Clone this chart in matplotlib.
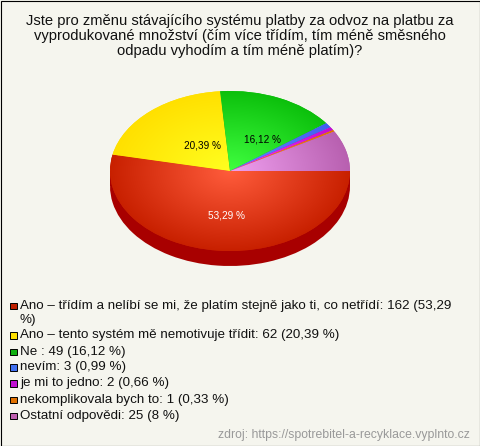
import numpy as np
import matplotlib
matplotlib.use("Agg")
import matplotlib.pyplot as plt
from matplotlib.patches import Rectangle

plt.rcParams['font.family'] = ['Liberation Sans', 'DejaVu Sans']

title = "Jste pro změnu stávajícího systému platby za odvoz na platbu za\nvyprodukované množství (čím více třídím, tím méně směsného\nodpadu vyhodím a tím méně platím)?"
names = ["Ano – třídím a nelíbí se mi, že platím stejně jako ti, co netřídí",
         "Ano – tento systém mě nemotivuje třídit",
         "Ne ",
         "nevím",
         "je mi to jedno",
         "nekomplikovala bych to",
         "Ostatní odpovědi"]
counts = [162, 62, 49, 3, 2, 1, 25]
percents = ["53,29", "20,39", "16,12", "0,99", "0,66", "0,33", "8"]
source = "zdroj: https://spotrebitel-a-recyklace.vyplnto.cz"

# gradient colours of the slices
centre_cols = ["#ff5c3c", "#ffff20", "#40ff40", "#6090ff", "#ff30ff", "#ff9030", "#f0a0f0"]
edge_cols = ["#c82000", "#ffe000", "#0cc00c", "#4060f0", "#c010d0", "#e07000", "#b860b0"]
swatch_cols = ["#c02000", "#ffe000", "#10b010", "#4070f0", "#c010d0", "#e07000", "#c060b0"]
BG = "#f5f5ee"

W, H = 480, 446
fig = plt.figure(figsize=(W / 100, H / 100), dpi=100, facecolor=BG)

# pie axes, squashed: ellipse 240x160 px centred on 230,171
cx, cy, rx, ry, depth = 230, 171, 120, 80, 15
ax = fig.add_axes([(cx - rx) / W, 1 - (cy + ry + depth) / H, 2 * rx / W, (2 * ry + depth) / H])

# side of the pie
d = depth / ry
ax.pie(counts, startangle=0, counterclock=False, radius=1, center=(0, -d),
       colors=["#a80000"] * len(counts))
ax.add_patch(Rectangle((-1, -d), 2, d, color="#a80000", lw=0))

wedges, _ = ax.pie(counts, startangle=0, counterclock=False, radius=1, colors=edge_cols)

yy, xx = np.mgrid[-1:1:400j, -1:1:400j]
rr = np.clip(np.hypot(xx, yy), 0, 1)[..., None]
for w, c0, c1 in zip(wedges, centre_cols, edge_cols):
    a = np.array(matplotlib.colors.to_rgb(c0))
    b = np.array(matplotlib.colors.to_rgb(c1))
    im = ax.imshow(a * (1 - rr) + b * rr, extent=(-1, 1, -1, 1), origin="lower", zorder=3)
    im.set_clip_path(w)

ax.set_aspect("auto")
ax.set_xlim(-1, 1)
ax.set_ylim(-1 - d, 1)
ax.axis("off")

# overlay in pixel coordinates for all texts
ov = fig.add_axes([0, 0, 1, 1], facecolor="none")
ov.set_xlim(0, W)
ov.set_ylim(H, 0)
ov.axis("off")
ov.add_patch(Rectangle((0.5, 0.5), W - 1, H - 1, fill=False, ec="black", lw=0.8))

ov.text(240, 36, title, ha="center", va="center", fontsize=10.65, color="#111111", linespacing=1.13)

for x, y, p, col in [(226, 215, percents[0], "white"), (202, 146, percents[1], "black"), (262, 139, percents[2], "black")]:
    ov.text(x, y, p + " %", ha="center", va="center", fontsize=7.2, color=col)

row_y = [305.5, 335, 351.5, 367, 383, 399.5, 415.5]
for i, y in enumerate(row_y):
    ov.add_patch(Rectangle((10, y - 3), 6.5, 6.5, fc=swatch_cols[i], ec="black", lw=0.7))
    label = f"{names[i]}: {counts[i]} ({percents[i]} %)"
    if i == 0:
        label = label.replace("(53,29 %)", "(53,29\n%)")
        ov.text(20, y - 5.5, label, ha="left", va="top", fontsize=9.65, color="#111111", linespacing=1.27)
    else:
        ov.text(20, y, label, ha="left", va="center", fontsize=9.65, color="#111111")

ov.text(470, 435, source, ha="right", va="center", fontsize=8.8, color="#999999")

fig.savefig("out.png", dpi=100, facecolor=BG)
